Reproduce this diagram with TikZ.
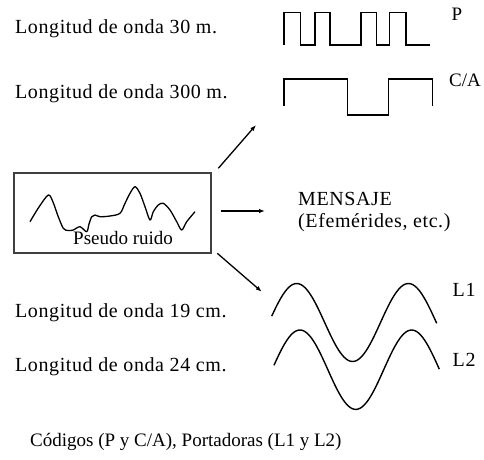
\documentclass[tikz,border=0pt]{standalone}
\usepackage{fontspec}
\setmainfont{Liberation Serif}
\newfontfamily\spacedfont[LetterSpace=3]{Liberation Serif}
\usetikzlibrary{arrows.meta}
\tikzset{
  lbl/.style={anchor=base west, inner sep=0pt, font=\spacedfont\fontsize{20}{24}\selectfont},
  captext/.style={anchor=base west, inner sep=0pt, font=\fontsize{19}{23}\selectfont},
  sig/.style={anchor=base west, inner sep=0pt, font=\fontsize{19}{22}\selectfont},
  wave/.style={line width=1.5pt, black, line join=miter},
  sine/.style={line width=1.4pt, black, line join=round},
  arr/.style={line width=1.3pt, -{Latex[length=6pt,width=4.5pt]}},
}
\begin{document}
\begin{tikzpicture}[x=1pt,y=-1pt]
\useasboundingbox (0,0) rectangle (484,459);
% left labels
\node[lbl] (l30) at (15,33) {Longitud de onda 30 m.};
\node[lbl] (l300) at (15,98) {Longitud de onda 300 m.};
\node[lbl] (l19) at (15,317) {Longitud de onda 19 cm.};
\node[lbl] (l24) at (15,371) {Longitud de onda 24 cm.};
\node[captext] (caption) at (30,446) {Códigos (P y C/A), Portadoras (L1 y L2)};
% right labels
\node[sig] (p) at (451.5,20) {P};
\node[sig] (ca) at (449,86) {C/A};
\node[lbl] (l1) at (452.5,296) {L1};
\node[lbl] (l2) at (452.5,366) {L2};
\node[lbl] (msg) at (298,205) {MENSAJE};
\node[lbl] (efe) at (298,227) {(Efemérides, etc.)};
% P code
\draw[wave] (284,45) -- (284,12.5) -- (300.7,12.5) -- (300.7,45) -- (315,45) -- (315,12.5)
  -- (330,12.5) -- (330,45) -- (361,45) -- (361,12.5) -- (376.7,12.5) -- (376.7,45)
  -- (389.3,45) -- (389.3,12.5) -- (406,12.5) -- (406,45) -- (430,45);
% C/A code
\draw[wave] (284,106) -- (284,79) -- (347.7,79) -- (347.7,115) -- (388.3,115) -- (388.3,79)
  -- (432.3,79) -- (432.3,106);
% noise box
\node[draw=black!75, line width=1.2pt, minimum width=197pt, minimum height=80pt, inner sep=0pt] (box) at (112.5,213) {};
\node[anchor=base west, inner sep=0pt, font=\fontsize{19}{21}\selectfont] (pr) at (73,244.5) {Pseudo ruido};
\draw[line width=1.3pt, line join=round] plot[smooth, tension=0.5] coordinates {
 (30,221.7) (39,207) (48.3,195) (53,202) (58,216) (63.3,228.3) (68,230.5) (73.3,230) (80,226.7) (86.7,231.7)
 (89,224) (91.7,216.7) (95,215) (100,216.7) (110,216) (120,213.3) (125,203.3) (130,193.3)
 (135,186.7) (140,193.3) (145,206.7) (150,220) (153.3,211.7) (158.3,205) (163.3,203.3)
 (170,210) (176.7,221.7) (181.7,230) (186.7,221.7) (195,211.7)};
% arrows
\coordinate (a1s) at (218.3,168.3);
\coordinate (a1e) at (256,125);
\coordinate (a2s) at (220.7,211);
\coordinate (a2e) at (265,211);
\coordinate (a3s) at (217.3,253.3);
\coordinate (a3e) at (261.7,291.7);
\draw[arr] (a1s) -- (a1e);
\draw[arr] (a2s) -- (a2e);
\draw[arr] (a3s) -- (a3e);
% carriers
\draw[sine] plot[domain=271.7:436.7, samples=90] (\x, {322.5-39*sin(3.2229*(\x-268.8))});
\draw[sine] plot[domain=274:439.3, samples=90] (\x, {369.7-39.7*sin(3.2229*(\x-272))});
\end{tikzpicture}
\end{document}
